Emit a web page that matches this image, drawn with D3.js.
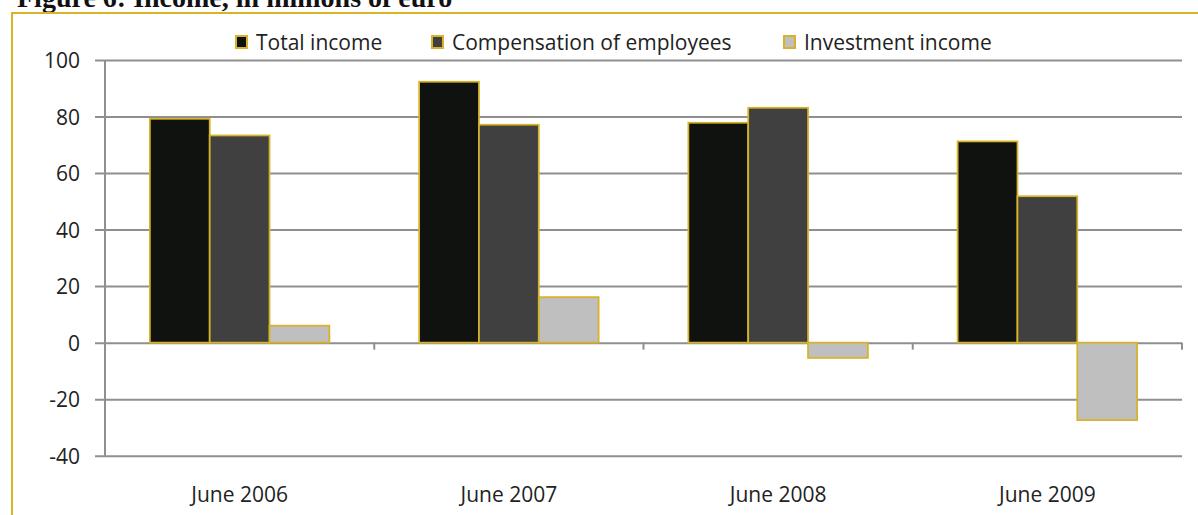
<!DOCTYPE html>
<html>
<head>
<meta charset="utf-8">
<script src="https://cdn.jsdelivr.net/npm/d3@7"></script>
<style>
  html, body { margin: 0; padding: 0; background: #fff; }
  svg { display: block; }
  text { font-family: "Open Sans", "Noto Sans", sans-serif; fill: #1a1a1a; }
</style>
</head>
<body>
<svg id="chart" width="1198" height="515"></svg>
<script>
// Income figures, millions of euro
const categories = ["June 2006", "June 2007", "June 2008", "June 2009"];
const seriesNames = ["Total income", "Compensation of employees", "Investment income"];
const totalIncome = [79.2, 92.3, 77.8, 71.2];
const compensation = [73.3, 77.1, 83.1, 51.8];
const investmentIncome = [6.0, 16.1, -5.4, -27.4];
const yTicks = [-40, -20, 0, 20, 40, 60, 80, 100];

const seriesValues = [totalIncome, compensation, investmentIncome];
const fills = ["#101210", "#404040", "#bfbfbf"];
const gold = "#d6b327";

const svg = d3.select("#chart");

// Figure title sitting just above the frame
svg.append("text")
  .attr("x", 17).attr("y", 7)
  .style("font-family", "'Liberation Serif', 'DejaVu Serif', serif")
  .style("font-weight", "bold")
  .style("font-size", "28px")
  .style("fill", "#111")
  .text("Figure 6: Income, in millions of euro");

// Frame lines (top and left)
svg.append("line")
  .attr("x1", 12).attr("x2", 1198).attr("y1", 13).attr("y2", 13)
  .attr("stroke", gold).attr("stroke-width", 2);
svg.append("line")
  .attr("x1", 12).attr("x2", 12).attr("y1", 12).attr("y2", 515)
  .attr("stroke", gold).attr("stroke-width", 2);

// Plot area
const plotLeft = 105, plotRight = 1182, plotTop = 60, plotBottom = 455.7;

const x0 = d3.scaleBand().domain(categories).range([plotLeft, plotRight]).padding(0);
const x1 = d3.scaleBand().domain(seriesNames).range([0, x0.bandwidth()])
  .paddingInner(0).paddingOuter(0.75);
const y = d3.scaleLinear().domain([-40, 100]).range([plotBottom, plotTop]);

const gridColor = "#8f8f8f";

// Horizontal gridlines with short outer ticks
const yAxis = d3.axisLeft(y).tickValues(yTicks).tickSize(-(plotRight - plotLeft)).tickPadding(14)
  .tickFormat(d => String(d));
const gy = svg.append("g").attr("transform", `translate(${plotLeft},0)`).call(yAxis);
gy.select(".domain").remove();
gy.selectAll(".tick line")
  .attr("x1", -10)
  .attr("stroke", gridColor).attr("stroke-width", 2);
gy.selectAll(".tick text")
  .style("font-size", "21px").style("fill", "#222")
  .attr("x", -25).attr("dy", "0.36em");

// Vertical axis line
svg.append("line")
  .attr("x1", plotLeft).attr("x2", plotLeft).attr("y1", plotTop).attr("y2", plotBottom)
  .attr("stroke", gridColor).attr("stroke-width", 2);

// Bars
const groups = svg.append("g").selectAll("g")
  .data(categories)
  .join("g")
  .attr("transform", d => `translate(${x0(d)},0)`);

groups.selectAll("rect")
  .data((c, i) => seriesNames.map((s, j) => ({ s, j, v: seriesValues[j][i] })))
  .join("rect")
  .attr("x", d => x1(d.s))
  .attr("width", x1.bandwidth())
  .attr("y", d => y(Math.max(0, d.v)))
  .attr("height", d => Math.abs(y(d.v) - y(0)))
  .attr("fill", d => fills[d.j])
  .attr("stroke", gold)
  .attr("stroke-width", 1.75);

// Category axis along zero, with boundary ticks
const boundaries = categories.map(c => x0(c) + x0.bandwidth());
svg.append("g").selectAll("line")
  .data(boundaries)
  .join("line")
  .attr("x1", d => d).attr("x2", d => d)
  .attr("y1", y(0)).attr("y2", y(0) + 7)
  .attr("stroke", gridColor).attr("stroke-width", 2);

svg.append("g").selectAll("text")
  .data(categories)
  .join("text")
  .attr("x", d => x0(d) + x0.bandwidth() / 2)
  .attr("y", 502)
  .attr("text-anchor", "middle")
  .style("font-size", "21px").style("fill", "#222")
  .text(d => d);

// Legend
const legendX = [236, 432, 784];
const legend = svg.append("g").selectAll("g")
  .data(seriesNames)
  .join("g")
  .attr("transform", (d, i) => `translate(${legendX[i]},36)`);
legend.append("rect")
  .attr("x", 0).attr("y", 0).attr("width", 11).attr("height", 12)
  .attr("fill", (d, i) => fills[i])
  .attr("stroke", gold).attr("stroke-width", 2);
legend.append("text")
  .attr("x", 20).attr("y", 14)
  .style("font-size", "21px").style("fill", "#222")
  .text(d => d);
</script>
</body>
</html>
